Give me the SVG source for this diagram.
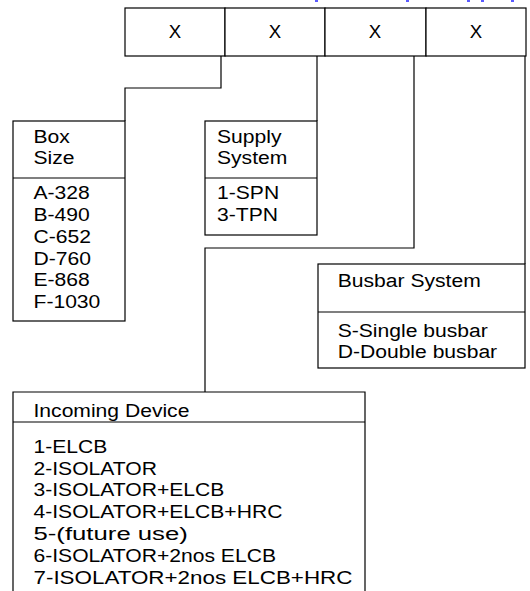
<svg xmlns="http://www.w3.org/2000/svg" width="530" height="591" viewBox="0 0 530 591">
<style>
.b{fill:#fff;stroke:#000;stroke-width:1.2}
.l{fill:none;stroke:#000;stroke-width:1.2}
text{font-family:"Liberation Sans",Arial,Helvetica,sans-serif;font-size:18.6px;fill:#000}
.c{text-anchor:middle}
</style>
<rect width="530" height="591" fill="#fff"/>
<g id="topmarks" fill="#5a5aff">
<rect x="315" y="0" width="3" height="2"/>
<rect x="406" y="0" width="3" height="2"/>
<rect x="467" y="0" width="3" height="2"/>
<rect x="481" y="0" width="3" height="2"/>
<rect x="511" y="0" width="3" height="2"/>
</g>
<g id="code">
<rect class="b" x="125" y="8" width="100" height="48"/>
<rect class="b" x="225" y="8" width="100" height="48"/>
<rect class="b" x="325" y="8" width="101" height="48"/>
<rect class="b" x="426" y="8" width="100" height="48"/>
<text class="c" x="175" y="38.3">X</text>
<text class="c" x="275" y="38.3">X</text>
<text class="c" x="375" y="38.3">X</text>
<text class="c" x="476" y="38.3">X</text>
</g>
<g id="connectors">
<polyline class="l" points="221,56 221,88 125,88 125,121"/>
<polyline class="l" points="317,56 317,121"/>
<polyline class="l" points="414,56 414,248 205,248 205,392"/>
<polyline class="l" points="525,56 525,264"/>
</g>
<g id="boxsize">
<rect class="b" x="13" y="121" width="112" height="200"/>
<line class="l" x1="13" y1="178" x2="125" y2="178"/>
<g transform="translate(33.5,0) scale(1.135,1)">
<text x="0" y="143.3">Box</text>
<text x="0" y="164.3">Size</text>
<text x="0" y="199.3">A-328</text>
<text x="0" y="221.1">B-490</text>
<text x="0" y="242.9">C-652</text>
<text x="0" y="264.7">D-760</text>
<text x="0" y="286.5">E-868</text>
<text x="0" y="308.3">F-1030</text>
</g>
</g>
<g id="supply">
<rect class="b" x="205" y="121" width="112" height="114"/>
<line class="l" x1="205" y1="178" x2="317" y2="178"/>
<g transform="translate(217,0) scale(1.135,1)">
<text x="0" y="143.3">Supply</text>
<text x="0" y="164.3">System</text>
<text x="0" y="199.3">1-SPN</text>
<text x="0" y="221.1">3-TPN</text>
</g>
</g>
<g id="busbar">
<rect class="b" x="318" y="264" width="207" height="104"/>
<line class="l" x1="318" y1="312" x2="525" y2="312"/>
<g transform="translate(337.7,0) scale(1.135,1)">
<text x="0" y="287.3">Busbar System</text>
<text x="0" y="337.3">S-Single busbar</text>
<text x="0" y="358.3">D-Double busbar</text>
</g>
</g>
<g id="incoming">
<path class="l" d="M13,592 V392 H365 V592"/>
<line class="l" x1="13" y1="422" x2="365" y2="422"/>
<g transform="translate(33.5,0) scale(1.135,1)">
<text x="0" y="416.7">Incoming Device</text>
<text x="0" y="452.7">1-ELCB</text>
<text x="0" y="474.6">2-ISOLATOR</text>
<text x="0" y="496.5">3-ISOLATOR+ELCB</text>
<text x="0" y="518.4">4-ISOLATOR+ELCB+HRC</text>
<text x="0" y="540.4" textLength="136" lengthAdjust="spacingAndGlyphs">5-(future use)</text>
<text x="0" y="562.3">6-ISOLATOR+2nos ELCB</text>
<text x="0" y="584.2" textLength="281" lengthAdjust="spacingAndGlyphs">7-ISOLATOR+2nos ELCB+HRC</text>
</g>
</g>
</svg>
